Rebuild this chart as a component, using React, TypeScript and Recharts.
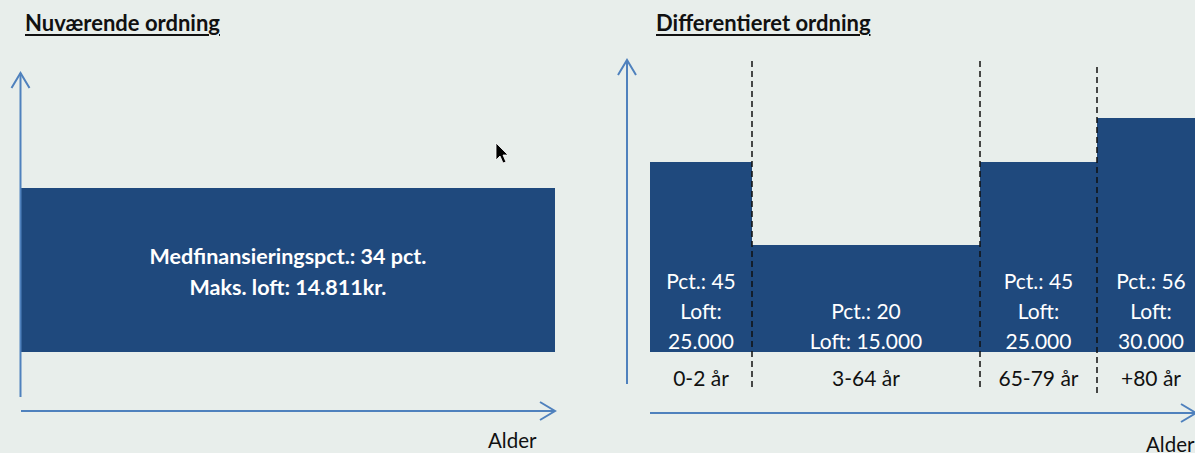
import React from "react";
import { ComposedChart, XAxis, YAxis, ReferenceArea, ReferenceLine } from "recharts";

const BG = "#e8eeeb";
const NAVY = "#1f497d";
const AXIS_BLUE = "#4f81bd";
const FONT = "Lato, 'Open Sans', sans-serif";

const TITLES = ["Nuværende ordning", "Differentieret ordning"];
const AXIS_NAME = "Alder";

// current scheme: one flat block across all ages
const CURRENT_WIDTH = 534;
const CURRENT_HEIGHT = 164;
const CURRENT_TEXT = ["Medfinansieringspct.: 34 pct.", "Maks. loft: 14.811kr."];

// differentiated scheme: one block per age group
const AGE_GROUPS = ["0-2 år", "3-64 år", "65-79 år", "+80 år"];
const GROUP_WIDTH = [102, 228, 117, 108];
const GROUP_HEIGHT = [190, 107, 190, 234];
const GROUP_TEXT = [
  ["Pct.: 45", "Loft:", "25.000"],
  ["Pct.: 20", "Loft: 15.000"],
  ["Pct.: 45", "Loft:", "25.000"],
  ["Pct.: 56", "Loft:", "30.000"],
];

const groups = AGE_GROUPS.map((name, i) => {
  const start = GROUP_WIDTH.slice(0, i).reduce((a, b) => a + b, 0);
  return { name, start, end: start + GROUP_WIDTH[i], h: GROUP_HEIGHT[i], text: GROUP_TEXT[i] };
});

const H = 453;
const Y_DOMAIN: [number, number] = [-101, 352];

/* Axis line with an open chevron at the end. */
function Arrow(p: any) {
  const { x1, y1, x2, y2 } = p;
  const a = Math.atan2(y2 - y1, x2 - x1);
  const L = 15, W = 9;
  const bx = x2 - L * Math.cos(a), by = y2 - L * Math.sin(a);
  const nx = -Math.sin(a) * W, ny = Math.cos(a) * W;
  return (
    <g>
      <line x1={x1} y1={y1} x2={x2} y2={y2} stroke={AXIS_BLUE} strokeWidth={2} />
      <polyline
        points={`${bx + nx},${by + ny} ${x2},${y2} ${bx - nx},${by - ny}`}
        fill="none" stroke={AXIS_BLUE} strokeWidth={2}
      />
    </g>
  );
}

function CurrentLabel(p: any) {
  const { x, y, width, height } = p.viewBox;
  const cx = x + width / 2, cy = y + height / 2 + 1.5;
  return (
    <g>
      {CURRENT_TEXT.map((t, i) => (
        <text key={i} x={cx} y={cy + (i - 0.5) * 31} textAnchor="middle" dominantBaseline="central"
          fill="#fff" fontFamily={FONT} fontSize={21.5} fontWeight={700}>{t}</text>
      ))}
    </g>
  );
}

function GroupLabel(g: (typeof groups)[number]) {
  return (p: any) => {
    const { x, y, width, height } = p.viewBox;
    const cx = x + width / 2, bottom = y + height;
    const n = g.text.length;
    return (
      <g>
        {g.text.map((t, i) => (
          <text key={i} x={cx} y={bottom - 12 - (n - 1 - i) * 30} textAnchor="middle" dominantBaseline="central"
            fill="#fff" fontFamily={FONT} fontSize={21}>{t}</text>
        ))}
        <text x={cx} y={bottom + 25} textAnchor="middle" dominantBaseline="central"
          fill="#111" fontFamily={FONT} fontSize={21}>{g.name}</text>
      </g>
    );
  };
}

const titleStyle: React.CSSProperties = {
  position: "absolute", top: 13, fontFamily: FONT, fontSize: 22, fontWeight: 700,
  lineHeight: "20px", color: "#111", textDecoration: "underline", textUnderlineOffset: 3,
  textDecorationThickness: 1.5, whiteSpace: "nowrap",
};
const alderStyle: React.CSSProperties = {
  position: "absolute", fontFamily: FONT, fontSize: 20.5, lineHeight: "20px", color: "#111", whiteSpace: "nowrap",
};

export default function App() {
  return (
    <div style={{ position: "relative", width: 1195, height: H, background: BG, overflow: "hidden" }}>
      <style>{"body{margin:0}"}</style>

      <div style={{ ...titleStyle, left: 25 }}>{TITLES[0]}</div>
      <div style={{ ...titleStyle, left: 656 }}>{TITLES[1]}</div>

      {/* left panel */}
      <div style={{ position: "absolute", left: 0, top: 0 }}>
        <ComposedChart width={600} height={H} data={[{ x: 0 }]} margin={{ top: 0, right: 0, bottom: 0, left: 0 }}>
          <XAxis type="number" dataKey="x" domain={[-21, 579]} hide allowDataOverflow />
          <YAxis type="number" domain={Y_DOMAIN} hide allowDataOverflow />
          <ReferenceArea x1={0} x2={CURRENT_WIDTH} y1={0} y2={CURRENT_HEIGHT} fill={NAVY} fillOpacity={1}
            stroke="none" ifOverflow="visible" label={(p: any) => <CurrentLabel {...p} />} />
          <ReferenceLine segment={[{ x: -0.5, y: -45 }, { x: -0.5, y: 279 }]} shape={Arrow} ifOverflow="visible" />
          <ReferenceLine segment={[{ x: 0, y: -59 }, { x: CURRENT_WIDTH, y: -59 }]} shape={Arrow} ifOverflow="visible" />
        </ComposedChart>
      </div>

      {/* right panel */}
      <div style={{ position: "absolute", left: 600, top: 0 }}>
        <ComposedChart width={595} height={H} data={[{ x: 0 }]} margin={{ top: 0, right: 0, bottom: 0, left: 0 }}>
          <XAxis type="number" dataKey="x" domain={[-50, 545]} hide allowDataOverflow />
          <YAxis type="number" domain={Y_DOMAIN} hide allowDataOverflow />
          {groups.map((g) => (
            <ReferenceArea key={g.name} x1={g.start} x2={g.end} y1={0} y2={g.h} fill={NAVY} fillOpacity={1}
              stroke="none" ifOverflow="visible" label={GroupLabel(g)} />
          ))}
          {groups.slice(1).map((g, i) => (
            <ReferenceLine key={g.name} ifOverflow="visible" stroke="#111" strokeWidth={1.5} strokeDasharray="6 4"
              segment={[{ x: g.start, y: i === 2 ? -41 : -35 }, { x: g.start, y: i === 2 ? 289 : 294 }]} />
          ))}
          <ReferenceLine segment={[{ x: -23, y: -32 }, { x: -23, y: 292 }]} shape={Arrow} ifOverflow="visible" />
          <ReferenceLine segment={[{ x: 0, y: -61 }, { x: 546, y: -61 }]} shape={Arrow} ifOverflow="visible" />
        </ComposedChart>
      </div>

      <div style={{ ...alderStyle, left: 488, top: 430 }}>{AXIS_NAME}</div>
      <div style={{ ...alderStyle, left: 1146, top: 434 }}>{AXIS_NAME}</div>

      {/* mouse pointer captured in the screenshot */}
      <svg style={{ position: "absolute", left: 495, top: 142 }} width={16} height={24}>
        <polygon points="1,1 1,18 5,14 8,21 11,20 8,13 13,13" fill="#000" stroke="#fff" strokeWidth={0.8} />
      </svg>
    </div>
  );
}
